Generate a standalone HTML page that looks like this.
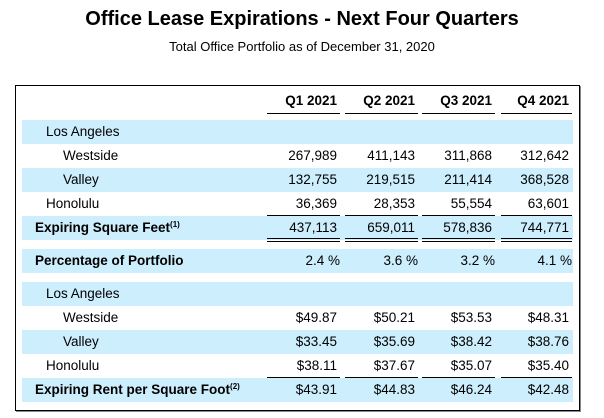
<!DOCTYPE html>
<html><head><meta charset="utf-8"><style>
body{margin:0;width:604px;height:418px;background:#fff;font-family:"Liberation Sans",Arial,sans-serif;color:#000;position:relative;overflow:hidden}
.abs{position:absolute}
.band{position:absolute;left:22px;width:551px;height:24px;background:#cdeefc}
.t{position:absolute;font-size:13.5px;line-height:24px;height:24px;white-space:nowrap}
.v{position:absolute;font-size:13.5px;line-height:24px;text-align:right;width:80px}
.ul{position:absolute;height:1px;background:#000}
sup{font-size:8px;line-height:0;vertical-align:0;position:relative;top:-5px}
</style></head><body>
<div class="abs" style="left:0;width:604px;top:8px;text-align:center;font-size:20px;font-weight:bold">Office Lease Expirations - Next Four Quarters</div>
<div class="abs" style="left:0;width:604px;top:39px;text-align:center;font-size:13px">Total Office Portfolio as of December 31, 2020</div>
<div class="abs" style="left:15px;top:85px;width:563px;height:324px;border:1px solid #000;box-shadow:1px 1px 0 #888"></div>
<div id="tbl"></div>
<script>
const quarters=["Q1 2021","Q2 2021","Q3 2021","Q4 2021"];
const sqWestside=["267,989","411,143","311,868","312,642"];
const sqValley=["132,755","219,515","211,414","368,528"];
const sqHonolulu=["36,369","28,353","55,554","63,601"];
const sqTotal=["437,113","659,011","578,836","744,771"];
const pctPortfolio=["2.4 %","3.6 %","3.2 %","4.1 %"];
const rentWestside=["$49.87","$50.21","$53.53","$48.31"];
const rentValley=["$33.45","$35.69","$38.42","$38.76"];
const rentHonolulu=["$38.11","$37.67","$35.07","$35.40"];
const rentTotal=["$43.91","$44.83","$46.24","$42.48"];
const root=document.getElementById('tbl');
const colRight=[340,418,495,572];
const colLeft=[267,345,422,501];
function add(cls,style,text,name){const d=document.createElement('div');d.className=cls;d.style.cssText=style;if(text!==undefined)d.innerHTML=text;


root.appendChild(d);return d;}
quarters.forEach((q,i)=>{add('v',`left:${colRight[i]-80-3}px;top:89px;font-weight:bold`,q,'column-header-'+(i+1));
add('ul',`left:${colLeft[i]}px;top:113px;width:${colRight[i]-colLeft[i]}px`,undefined,'header-underline');});
[120,168,216,249,282,330,378].forEach(y=>add('band',`top:${y}px`,undefined,'row-band'));
function row(y,label,x,bold,vals,pct){add('t',`left:${x}px;top:${y}px;${bold?'font-weight:bold':''}`,label,'row-label');
if(vals)vals.forEach((v,i)=>add('v',`left:${colRight[i]-80-(pct?0:3)}px;top:${y}px`,v,'cell-value'));}
row(120,'Los Angeles',46);
row(144,'Westside',63,0,sqWestside);
row(168,'Valley',63,0,sqValley);
row(192,'Honolulu',46,0,sqHonolulu);
row(216,'Expiring Square Feet<sup>(1)</sup>',35,1,sqTotal);
row(249,'Percentage of Portfolio',35,1,pctPortfolio,1);
row(282,'Los Angeles',46);
row(306,'Westside',63,0,rentWestside);
row(330,'Valley',63,0,rentValley);
row(354,'Honolulu',46,0,rentHonolulu);
row(378,'Expiring Rent per Square Foot<sup>(2)</sup>',35,1,rentTotal);
colLeft.forEach((l,i)=>{const w=colRight[i]-l;
add('ul',`left:${l}px;top:215px;width:${w}px`,undefined,'subtotal-underline');
add('ul',`left:${l}px;top:238px;width:${w}px`,undefined,'total-double-underline');
add('ul',`left:${l}px;top:241px;width:${w}px`,undefined,'total-double-underline');
add('ul',`left:${l}px;top:377px;width:${w}px`,undefined,'rent-subtotal-underline');});
</script>
</body></html>
